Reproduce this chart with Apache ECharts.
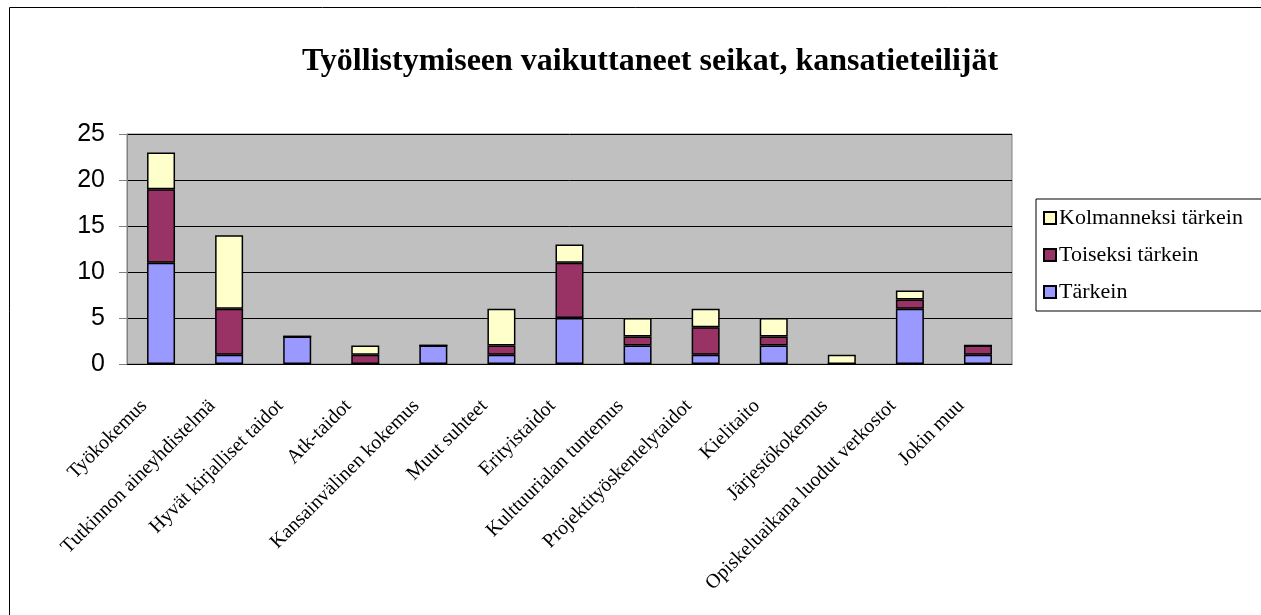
<!DOCTYPE html>
<html>
<head>
<meta charset="utf-8">
<script src="https://cdn.jsdelivr.net/npm/echarts@6/dist/echarts.min.js"></script>
<style>
  html, body { margin: 0; padding: 0; background: #fff; }
  #chart { width: 1261px; height: 615px; }
</style>
</head>
<body>
<div id="chart"></div>
<script>
// kategoriat ja sarjat
var categories = [
    'Työkokemus', 'Tutkinnon aineyhdistelmä', 'Hyvät kirjalliset taidot', 'Atk-taidot',
    'Kansainvälinen kokemus', 'Muut suhteet', 'Erityistaidot', 'Kulttuurialan tuntemus',
    'Projektityöskentelytaidot', 'Kielitaito', 'Järjestökokemus',
    'Opiskeluaikana luodut verkostot', 'Jokin muu'
];
var tarkein      = [11, 1, 3, 0, 2, 1, 5, 2, 1, 2, 0, 6, 1];
var toiseksi     = [8, 5, 0, 1, 0, 1, 6, 1, 3, 1, 0, 1, 1];
var kolmanneksi  = [4, 8, 0, 1, 0, 4, 2, 2, 2, 2, 1, 1, 0];
var yTicks = [0, 5, 10, 15, 20, 25];

var serif = '"Liberation Serif", "DejaVu Serif", serif';
var sans = '"Liberation Sans", Arial, sans-serif';

function bar(name, data, color) {
    return {
        name: name,
        type: 'bar',
        stack: 'total',
        barWidth: 28,
        data: data,
        itemStyle: { color: color, borderColor: '#000', borderWidth: 1.5 }
    };
}

var chart = echarts.init(document.getElementById('chart'));
chart.setOption({
    animation: false,
    title: {
        text: 'Työllistymiseen vaikuttaneet seikat, kansatieteilijät',
        left: 645,
        textAlign: 'center',
        top: 41,
        textStyle: { fontFamily: serif, fontSize: 32, fontWeight: 'bold', color: '#000' }
    },
    legend: {
        orient: 'vertical',
        left: 1036,
        top: 199,
        padding: [8, 40, 8, 7],
        itemGap: 15,
        itemWidth: 12,
        itemHeight: 12,
        borderColor: '#000',
        borderWidth: 1,
        backgroundColor: '#fff',
        data: ['Kolmanneksi tärkein', 'Toiseksi tärkein', 'Tärkein'],
        icon: 'rect',
        textStyle: { fontFamily: serif, fontSize: 22, color: '#000', padding: [0, 0, 0, -2] }
    },
    graphic: [{
        type: 'rect',
        shape: { x: 9.5, y: 7.5, width: 1300, height: 700 },
        style: { fill: 'none', stroke: '#000', lineWidth: 1 },
        silent: true,
        z: -10
    }],
    grid: {
        left: 127, right: 249, top: 134, bottom: 251,
        show: true, backgroundColor: '#c0c0c0', borderColor: '#808080', borderWidth: 1
    },
    xAxis: {
        type: 'category',
        data: categories,
        axisLine: { lineStyle: { color: '#000', width: 1 } },
        axisTick: { length: 6, lineStyle: { color: '#000' } },
        axisLabel: {
            rotate: 45, interval: 0, margin: 22,
            padding: [0, 24, 0, 0],
            fontFamily: serif, fontSize: 20, color: '#000'
        }
    },
    yAxis: {
        type: 'value',
        min: yTicks[0],
        max: yTicks[yTicks.length - 1],
        interval: 5,
        axisLine: { show: true, lineStyle: { color: '#808080' } },
        axisTick: { show: true, length: 8, lineStyle: { color: '#808080' } },
        axisLabel: { fontFamily: sans, fontSize: 25, color: '#000', margin: 22 },
        splitLine: { lineStyle: { color: '#000', width: 1 } }
    },
    series: [
        bar('Tärkein', tarkein, '#9999ff'),
        bar('Toiseksi tärkein', toiseksi, '#993366'),
        bar('Kolmanneksi tärkein', kolmanneksi, '#ffffcc')
    ]
});
</script>
</body>
</html>
